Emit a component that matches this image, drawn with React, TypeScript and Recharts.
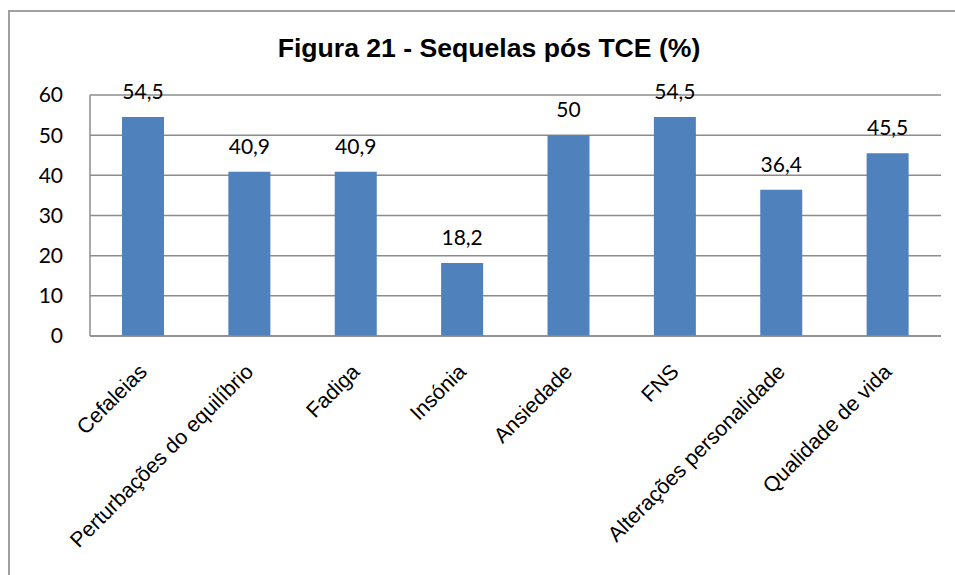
import { BarChart, Bar, XAxis, YAxis, CartesianGrid, LabelList } from "recharts";

const categories = [
  "Cefaleias",
  "Perturbações do equilíbrio",
  "Fadiga",
  "Insónia",
  "Ansiedade",
  "FNS",
  "Alterações personalidade",
  "Qualidade de vida",
];
const values = [54.5, 40.9, 40.9, 18.2, 50, 54.5, 36.4, 45.5];
const yTicks = [0, 10, 20, 30, 40, 50, 60];
const title = "Figura 21 - Sequelas pós TCE (%)";

const data = categories.map((name, i) => ({ name, value: values[i] }));

const GRID = "#8c8c8c";
const BAR = "#4f81bd";

function SlantTick({ x, y, payload }: any) {
  return (
    <g transform={`translate(${x + 5},${y + 37})`}>
      <text
        x={0}
        y={0}
        textAnchor="end"
        transform="rotate(-45)"
        fontFamily="'Liberation Sans', Arial, sans-serif"
        fontSize={21.3}
        fill="#000"
      >
        {payload.value}
      </text>
    </g>
  );
}

export default function App() {
  return (
    <div style={{ position: "absolute", left: 0, top: 0, width: 955, height: 575, background: "#fff" }}>
      <div
        style={{
          position: "absolute",
          left: 8,
          top: 10,
          width: 947,
          height: 565,
          borderLeft: "2px solid #a0a0a0",
          borderTop: "2px solid #a0a0a0",
          boxSizing: "border-box",
        }}
      />
      <div
        style={{
          position: "absolute",
          left: 489,
          top: 35,
          transform: "translateX(-50%)",
          whiteSpace: "nowrap",
          fontFamily: "'Liberation Sans', Arial, sans-serif",
          fontWeight: "bold",
          fontSize: 26.6,
          lineHeight: "26px",
          color: "#000",
        }}
      >
        {title}
      </div>
      <div style={{ position: "absolute", left: 0, top: 0 }}>
        <BarChart
          width={955}
          height={575}
          data={data}
          margin={{ top: 95, right: 14, bottom: 9, left: 30 }}
        >
          <CartesianGrid vertical={false} stroke={GRID} strokeWidth={1.5} />
          <XAxis
            dataKey="name"
            interval={0}
            height={230}
            tickLine={false}
            tickSize={0}
            tickMargin={0}
            axisLine={{ stroke: GRID, strokeWidth: 1.5 }}
            tick={<SlantTick />}
          />
          <YAxis
            width={60}
            domain={[0, 60]}
            ticks={yTicks}
            tickLine={false}
            tickMargin={21}
            axisLine={{ stroke: GRID, strokeWidth: 1.5 }}
            tick={{ fontFamily: "Lato, 'Open Sans', sans-serif", fontSize: 21, fill: "#000" }}
          />
          <Bar dataKey="value" fill={BAR} barSize={42} isAnimationActive={false}>
            <LabelList
              dataKey="value"
              position="top"
              offset={18}
              formatter={(v: any) => String(v).replace(".", ",")}
              style={{ fontFamily: "Lato, 'Open Sans', sans-serif", fontSize: 21, fill: "#000" }}
            />
          </Bar>
        </BarChart>
      </div>
    </div>
  );
}
